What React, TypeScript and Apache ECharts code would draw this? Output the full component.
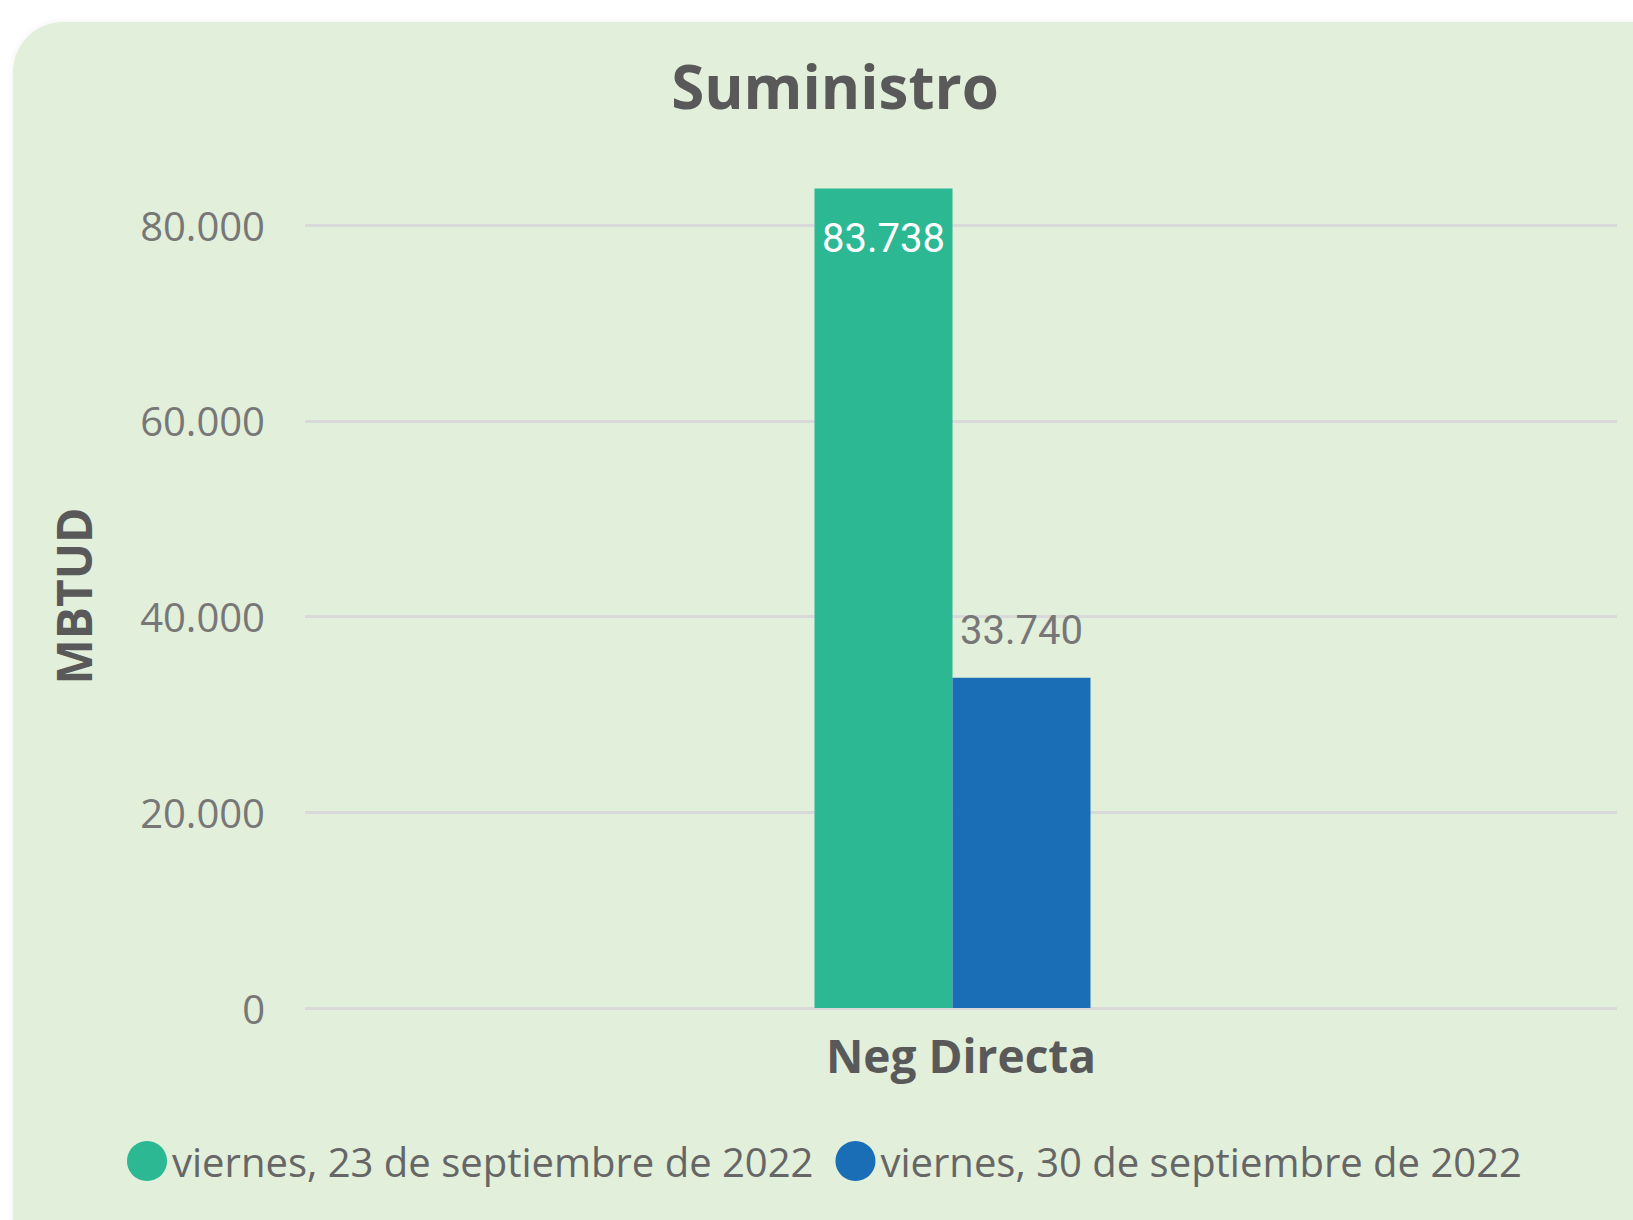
import React, { useEffect, useRef } from "react";
import * as echarts from "echarts";

const categories = ["Neg Directa"];
const seriesNames = ["viernes, 23 de septiembre de 2022", "viernes, 30 de septiembre de 2022"];
const valuesSep23 = [83738];
const valuesSep30 = [33740];
const yTicks = [0, 20000, 40000, 60000, 80000];
const colors = ["#2DB894", "#1A6EB5"];

const fmt = (v: number) => v.toLocaleString("de-DE");

export default function App() {
  const ref = useRef<HTMLDivElement>(null);
  useEffect(() => {
    const chart = echarts.init(ref.current!, null, { renderer: "svg" });
    const yBase = {
      type: "value",
      min: yTicks[0],
      max: yTicks[yTicks.length - 1],
      interval: 20000,
    };
    chart.setOption({
      animation: false,
      backgroundColor: "#ffffff",
      graphic: [
        {
          type: "rect",
          z: -10,
          shape: { x: 13, y: 22, width: 1700, height: 1300, r: 50 },
          style: { fill: "#E2EFDA", shadowBlur: 6, shadowColor: "rgba(0,0,0,0.06)" },
        },
        {
          type: "text",
          x: 73,
          y: 596,
          rotation: Math.PI / 2,
          style: {
            text: "MBTUD",
            fontFamily: "Open Sans",
            fontWeight: "bold",
            fontSize: 48,
            fill: "#595959",
            align: "center",
            verticalAlign: "middle",
          },
        },
      ],
      title: {
        text: "Suministro",
        left: 830,
        textAlign: "center",
        top: 51,
        textStyle: { fontFamily: "Open Sans", fontWeight: "bold", fontSize: 60, color: "#595959" },
      },
      legend: {
        left: 122,
        top: 1136,
        icon: "circle",
        itemWidth: 40,
        itemHeight: 40,
        itemGap: 22,
        textStyle: { fontFamily: "Open Sans", fontSize: 40, color: "#666666" },
        data: seriesNames,
      },
      grid: [
        { left: 305, right: 16, top: 225, bottom: 212, containLabel: false },
        { left: 305, right: 33, top: 225, bottom: 212, containLabel: false },
      ],
      xAxis: [
        {
          type: "category",
          gridIndex: 0,
          data: categories,
          axisLine: { show: false },
          axisTick: { show: false },
          axisLabel: {
            margin: 24,
            fontFamily: "Open Sans",
            fontWeight: "bold",
            fontSize: 46,
            color: "#595959",
          },
        },
        {
          type: "category",
          gridIndex: 1,
          data: categories,
          show: false,
        },
      ],
      yAxis: [
        {
          ...yBase,
          gridIndex: 0,
          axisLine: { show: false },
          axisTick: { show: false },
          axisLabel: {
            margin: 40,
            fontFamily: "Open Sans",
            fontSize: 40,
            color: "#777777",
            formatter: (v: number) => fmt(v),
          },
          splitLine: { lineStyle: { color: "#D9D9D9", width: 3 } },
        },
        {
          ...yBase,
          gridIndex: 1,
          show: false,
          splitLine: { show: false },
        },
      ],
      series: [
        {
          name: seriesNames[0],
          type: "bar",
          xAxisIndex: 1,
          yAxisIndex: 1,
          data: valuesSep23,
          barWidth: 138,
          barGap: "0%",
          clip: false,
          itemStyle: { color: colors[0] },
          label: {
            show: true,
            position: "insideTop",
            distance: 30,
            fontFamily: "Roboto",
            fontSize: 40,
            color: "#ffffff",
            formatter: (p: any) => fmt(p.value),
          },
        },
        {
          name: seriesNames[1],
          type: "bar",
          xAxisIndex: 1,
          yAxisIndex: 1,
          data: valuesSep30,
          barWidth: 138,
          barGap: "0%",
          clip: false,
          itemStyle: { color: colors[1] },
          label: {
            show: true,
            position: "top",
            distance: 27,
            fontFamily: "Roboto",
            fontSize: 40,
            color: "#777777",
            formatter: (p: any) => fmt(p.value),
          },
        },
      ],
    });
    return () => chart.dispose();
  }, []);
  return (
    <div
      ref={ref}
      style={{ position: "fixed", left: 0, top: 0, width: 1633, height: 1220, background: "#fff" }}
    />
  );
}
